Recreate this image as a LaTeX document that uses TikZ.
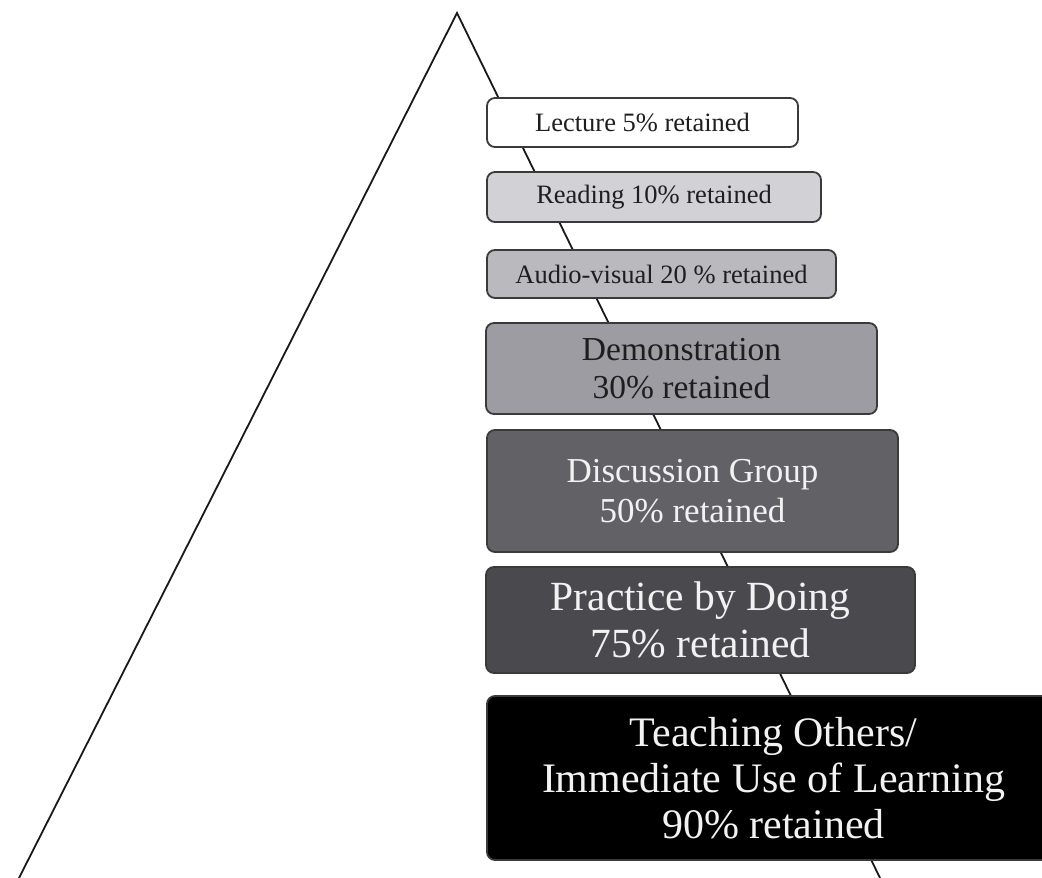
\documentclass[tikz,border=0pt]{standalone}
\usepackage{fontspec}
\setmainfont{Liberation Serif}
\definecolor{edge}{HTML}{3A3A3A}
\definecolor{fillB}{HTML}{D2D2D6}
\definecolor{fillC}{HTML}{BABABE}
\definecolor{fillD}{HTML}{9C9CA2}
\definecolor{fillE}{HTML}{626266}
\definecolor{fillF}{HTML}{4A4A4E}
\definecolor{darktext}{HTML}{1E1E1E}
\definecolor{lighttext}{HTML}{F2F2F2}
\tikzset{
  levelbox/.style={draw=edge, line width=1.8pt, rounded corners=8pt, inner sep=0pt, align=center},
  side/.style={draw=black!90, line width=1.8pt}
}
\begin{document}
\begin{tikzpicture}[x=1pt,y=-1pt]
\useasboundingbox (0,0) rectangle (1042,878);
\clip (0,0) rectangle (1042,878);
\coordinate (apex) at (457,13);
\coordinate (bl) at (18,880);
\coordinate (br) at (881,880);
\draw[side] (bl) -- (apex) -- (br);

\node[levelbox, fill=white, text=darktext, minimum width=311pt, minimum height=49pt,
  font=\fontsize{26.5}{30}\selectfont] (lecture) at (642.5,122.5) {Lecture 5\% retained};
\node[levelbox, fill=fillB, text=darktext, minimum width=334pt, minimum height=50pt,
  font=\fontsize{26.5}{30}\selectfont] (reading) at (654,197) {Reading 10\% retained};
\node[levelbox, fill=fillC, text=darktext, minimum width=349pt, minimum height=48pt,
  font=\fontsize{26.5}{30}\selectfont] (audio) at (661.5,274) {Audio-visual 20 \% retained};
\node[levelbox, fill=fillD, text=darktext, minimum width=391pt, minimum height=91pt,
  font=\fontsize{33.5}{38}\selectfont] (demo) at (681.5,368.5) {Demonstration\\30\% retained};
\node[levelbox, fill=fillE, text=lighttext, minimum width=411pt, minimum height=122pt,
  font=\fontsize{35}{40}\selectfont] (discussion) at (692.5,491) {Discussion Group\\50\% retained};
\node[levelbox, fill=fillF, text=lighttext, minimum width=429pt, minimum height=106pt,
  font=\fontsize{41.5}{47}\selectfont] (practice) at (700.5,620) {Practice by Doing\\75\% retained};
\node[levelbox, fill=black, text=lighttext, minimum width=573pt, minimum height=164pt,
  font=\fontsize{42}{46}\selectfont] (teaching) at (773.5,778) {Teaching Others/\\Immediate Use of Learning\\90\% retained};
\end{tikzpicture}
\end{document}
